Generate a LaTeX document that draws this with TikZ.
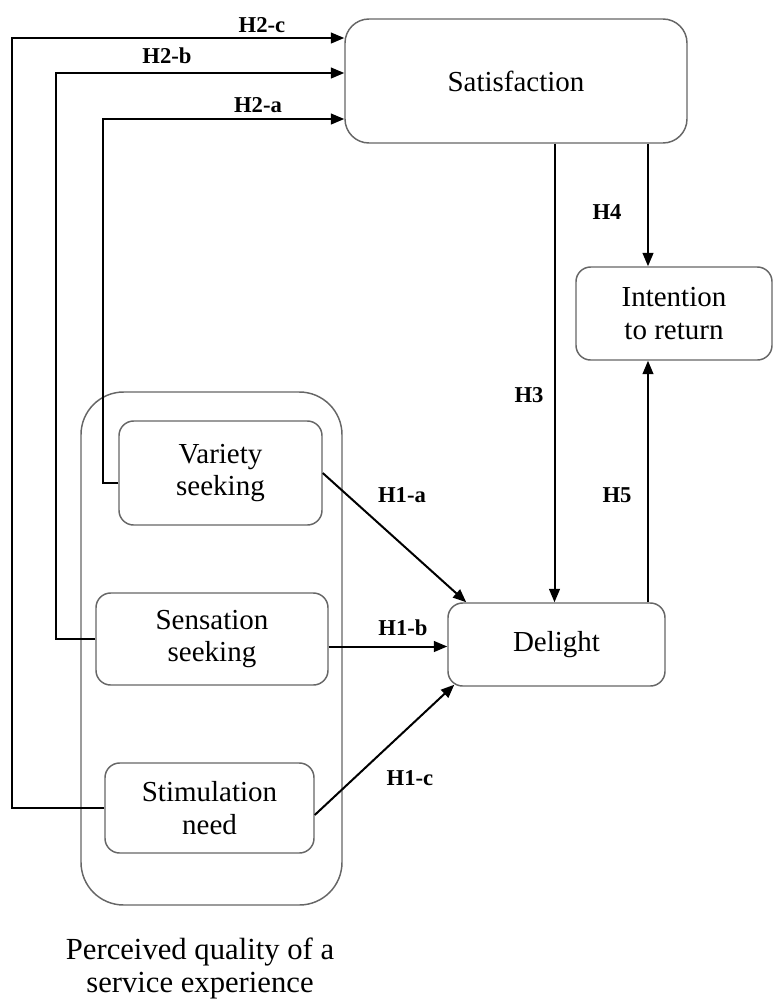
\documentclass[tikz,border=0pt]{standalone}
\usepackage{fontspec}
\setmainfont{Liberation Serif}
\usetikzlibrary{arrows.meta,calc}

\begin{document}
\begin{tikzpicture}[x=0.75pt,y=-0.75pt,inner sep=0pt,
  box/.style={draw=black!60,line width=1.1pt,rounded corners=11pt,align=center,
    font=\fontsize{21.75}{24.5}\selectfont},
  hyp/.style={font=\fontsize{17}{17}\selectfont\bfseries},
  link/.style={line width=1.5pt,-{Triangle[length=10pt,width=8pt]}}]

\useasboundingbox (0,0) rectangle (773,1001);

\node[box,rounded corners=32pt,minimum width=195.75pt,minimum height=384.75pt] (grp) at (211.5,648.5) {};
\node[box,rounded corners=18pt,minimum width=256.5pt,minimum height=93pt] (sat) at (516,81) {Satisfaction};
\node[box,minimum width=147pt,minimum height=69.75pt] (ret) at (674,313.5) {Intention\\to return};
\node[box,minimum width=152.25pt,minimum height=78pt] (var) at (220.5,473) {Variety\\seeking};
\node[box,minimum width=174pt,minimum height=69pt] (sens) at (212,639) {Sensation\\seeking};
\node[box,minimum width=156.75pt,minimum height=67.5pt] (stim) at (209.5,808) {Stimulation\\need};
\node[box,minimum width=162.75pt,minimum height=62.25pt] (del) at (556.5,644.5) {Delight};
\node[align=center,font=\fontsize{23}{24.75}\selectfont] (cap) at (200,968) {Perceived quality of a\\service experience};

\coordinate (h2c) at (12,38);
\coordinate (h2b) at (56,73);
\coordinate (h2a) at (103,119);
\coordinate (rx) at (648,0);

\draw[link] (stim.west) -| (h2c) -- (sat.west |- h2c);
\draw[link] (sens.west) -| (h2b) -- (sat.west |- h2b);
\draw[link] ($(var.west)+(0,10)$) -| (h2a) -- (sat.west |- h2a);

\path[every edge/.append style={link}]
  (var.east) edge ($(del.north west)+(19,0)$)
  ($(sens.east |- del.west)+(0,2)$) edge ($(del.west)+(0,2)$)
  ($(stim.east)+(0,7)$) edge ($(del.south west)+(7,-2)$)
  ($(del.north |- sat.south)+(-2,0)$) edge ($(del.north)+(-2,0)$)
  (rx |- sat.south) edge (rx |- ret.north)
  (rx |- del.north) edge (rx |- ret.south);

\node[hyp] (l2c) at (262,25) {H2-c};
\node[hyp] (l2b) at (167,56) {H2-b};
\node[hyp] (l2a) at (258,105) {H2-a};
\node[hyp] (l4) at (607,212) {H4};
\node[hyp] (l3) at (529,395) {H3};
\node[hyp] (l5) at (617,495) {H5};
\node[hyp] (l1a) at (402,495) {H1-a};
\node[hyp] (l1b) at (403,628) {H1-b};
\node[hyp] (l1c) at (410,778) {H1-c};

\end{tikzpicture}
\end{document}
